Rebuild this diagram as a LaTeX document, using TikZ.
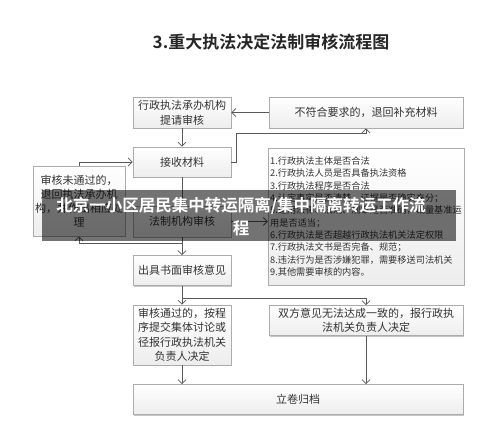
\documentclass[tikz,border=0pt]{standalone}
\usepackage{fontspec}
\setmainfont{Noto Sans CJK SC}
\newfontfamily\cjkb{Noto Sans CJK SC Bold}
\XeTeXlinebreaklocale "zh"
\usetikzlibrary{arrows.meta,shadows}
\begin{document}
\begin{tikzpicture}[x=1pt,y=-1pt,
  box/.style={draw=gray!65, line width=0.6pt, top color=white, bottom color=gray!14,
    drop shadow={shadow xshift=1.4pt, shadow yshift=-1.4pt, opacity=0.22, fill=black},
    inner sep=1pt, align=center, font=\fontsize{11}{15}\selectfont, text=black!80},
  arr/.style={draw=black!65, line width=0.8pt, -{Straight Barb[length=4pt,width=8pt]}},
  ln/.style={draw=black!65, line width=0.8pt}]
\useasboundingbox (0,0) rectangle (500,431);
\fill[white] (0,0) rectangle (500,431);
\node[font=\cjkb\fontsize{17}{20}\selectfont, text=black!85] (title) at (271,42) {3.重大执法决定法制审核流程图};
\node[box, minimum width=98pt, minimum height=31pt] (A) at (182,112.5) {行政执法承办机构\\提请审核};
\node[box, minimum width=194pt, minimum height=31pt] (N) at (366,112.5) {不符合要求的，退回补充材料};
\node[box, minimum width=98pt, minimum height=30pt] (R) at (182,162) {接收材料};
\node[box, minimum width=194pt, minimum height=137pt, align=left, inner xsep=2pt, font=\fontsize{9.2}{12.3}\selectfont] (L) at (366,216.5) {1.行政执法主体是否合法\\2.行政执法人员是否具备执法资格\\3.行政执法程序是否合法\\4.认定事实是否清楚，证据是否确实充分；\\5.适用法律、法规、规章是否准确，裁量基准运\\用是否适当；\\6.行政执法是否超越行政执法机关法定权限\\7.行政执法文书是否完备、规范；\\8.违法行为是否涉嫌犯罪，需要移送司法机关\\9.其他需要审核的内容。};
\node[box, minimum width=92pt, minimum height=70pt, font=\fontsize{11}{14}\selectfont] (LB) at (79,201) {审核未通过的，\\退回执法承办机\\构，并作出相应处\\理};
\node[box, minimum width=98pt, minimum height=31pt] (F) at (182,221.5) {法制机构审核};
\node[box, minimum width=98pt, minimum height=30pt] (O) at (182,270.5) {出具书面审核意见};
\node[box, minimum width=98pt, minimum height=60pt, font=\fontsize{11}{14.5}\selectfont] (P) at (182,335) {审核通过的，按程\\序提交集体讨论或\\径报行政执法机关\\负责人决定};
\node[box, minimum width=194pt, minimum height=30pt, font=\fontsize{11}{14.5}\selectfont] (D) at (366,320.5) {双方意见无法达成一致的，报行政执\\法机关负责人决定};
\node[box, minimum width=330pt, minimum height=30pt] (Z) at (298,399.5) {立卷归档};
% connectors
\coordinate (c1) at (236,133);
\coordinate (c2) at (182,243);
\coordinate (c3) at (182,298);
\draw[arr] (A.south) -- (R.north);
\draw[arr] (N.west) -- (A.east);
\draw[ln] (R.east) -| (c1);
\draw[arr] (c1) -| (N.south);
\draw[arr] (R.south) -- (F.north);
\draw[arr] (F.east) -- (F.east -| L.west);
\draw[arr] (F.south) -- (O.north);
\draw[arr] (c2) -| (LB.south);
\draw[arr] (LB.north) |- (R.west);
\draw[arr] (O.south) -- (P.north);
\draw[arr] (c3) -| (D.north);
\draw[arr] (P.south) -- (P.south |- Z.north);
\draw[arr] (D.south) -- (D.south |- Z.north);
% watermark banner
\fill[black, opacity=0.55] (42,190) rectangle (456,241);
\node[text=white, font=\cjkb\fontsize{16.5}{23}\selectfont, align=center, inner sep=0pt] (banner) at (241,216.5) {北京一小区居民集中转运隔离/集中隔离转运工作流\\程};
\end{tikzpicture}
\end{document}
